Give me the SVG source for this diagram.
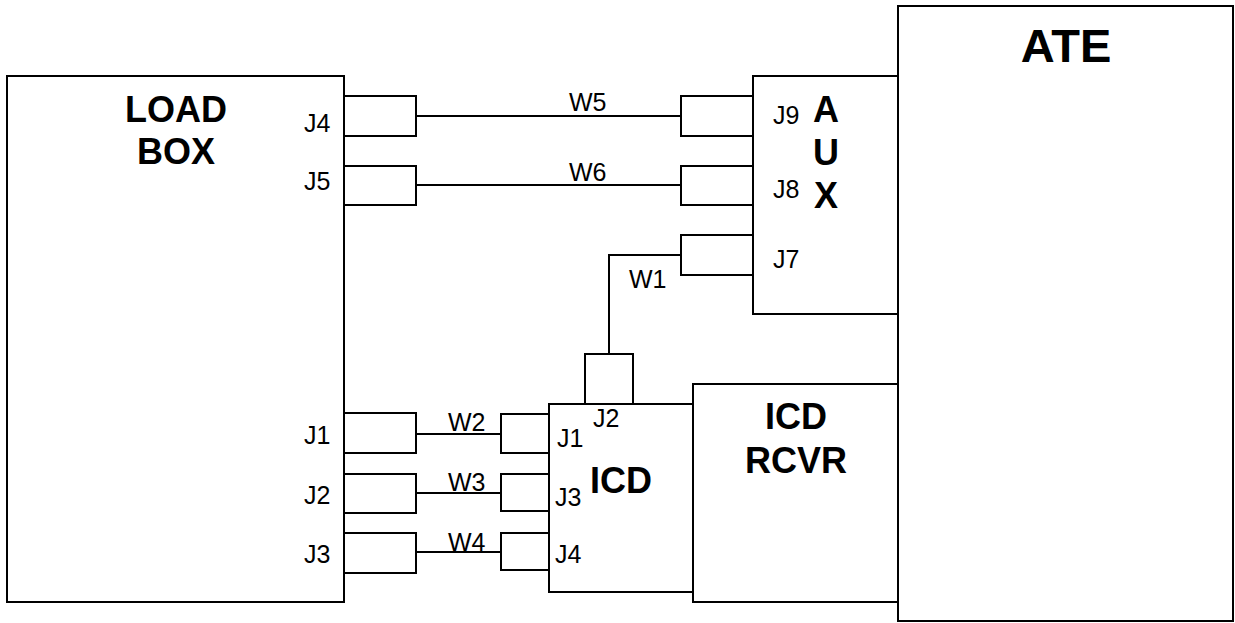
<svg xmlns="http://www.w3.org/2000/svg" width="1235" height="623" viewBox="0 0 1235 623">
<style>
.box{fill:#fff;stroke:#000;stroke-width:2}
.con{fill:#fff;stroke:#000;stroke-width:2}
.wire{fill:none;stroke:#000;stroke-width:2}
.t{font-family:"Liberation Sans",Arial,sans-serif;font-size:25px;fill:#000}
.b{font-family:"Liberation Sans",Arial,sans-serif;font-size:36px;font-weight:bold;fill:#000;text-anchor:middle}
</style>
<rect width="1235" height="623" fill="#fff"/>
<g id="ate">
<rect class="box" x="898" y="6" width="335" height="615"/>
<text class="b" x="1066" y="62" style="font-size:47px">ATE</text>
</g>
<g id="aux">
<rect class="box" x="753" y="76" width="145" height="238"/>
<text class="b" x="826" y="122">A</text>
<text class="b" x="826" y="165">U</text>
<text class="b" x="826" y="208">X</text>
<text class="t" x="773" y="124">J9</text>
<text class="t" x="773" y="198">J8</text>
<text class="t" x="773" y="268">J7</text>
<rect class="con" x="681" y="96" width="72" height="40"/>
<rect class="con" x="681" y="166" width="72" height="39"/>
<rect class="con" x="681" y="235" width="72" height="40"/>
</g>
<g id="loadbox">
<rect class="box" x="7" y="76" width="337" height="526"/>
<text class="b" x="176" y="122">LOAD</text>
<text class="b" x="176" y="164">BOX</text>
<text class="t" x="304" y="132">J4</text>
<text class="t" x="304" y="190">J5</text>
<text class="t" x="304" y="444">J1</text>
<text class="t" x="304" y="504">J2</text>
<text class="t" x="304" y="563">J3</text>
<rect class="con" x="344" y="96" width="72" height="40"/>
<rect class="con" x="344" y="166" width="72" height="39"/>
<rect class="con" x="344" y="413" width="72" height="40"/>
<rect class="con" x="344" y="474" width="72" height="39"/>
<rect class="con" x="344" y="533" width="72" height="40"/>
</g>
<g id="icdrcvr">
<rect class="box" x="693" y="384" width="205" height="218"/>
<text class="b" x="796" y="429">ICD</text>
<text class="b" x="796" y="473">RCVR</text>
</g>
<g id="icd">
<rect class="box" x="549" y="404" width="144" height="188"/>
<text class="b" x="621" y="493">ICD</text>
<text class="t" x="593" y="427">J2</text>
<text class="t" x="557" y="447">J1</text>
<text class="t" x="555" y="506">J3</text>
<text class="t" x="555" y="563">J4</text>
<rect class="con" x="585" y="354" width="48" height="50"/>
<rect class="con" x="501" y="414" width="48" height="39"/>
<rect class="con" x="501" y="474" width="48" height="37"/>
<rect class="con" x="501" y="533" width="48" height="37"/>
</g>
<g id="connectors">
<path class="wire" d="M416 116H681"/>
<path class="wire" d="M416 185H681"/>
<path class="wire" d="M681 255H609V354"/>
<path class="wire" d="M416 434H501"/>
<path class="wire" d="M416 493H501"/>
<path class="wire" d="M416 552H501"/>
<text class="t" x="569" y="111">W5</text>
<text class="t" x="569" y="181">W6</text>
<text class="t" x="629" y="288">W1</text>
<text class="t" x="448" y="431">W2</text>
<text class="t" x="448" y="491">W3</text>
<text class="t" x="448" y="551">W4</text>
</g>
</svg>
